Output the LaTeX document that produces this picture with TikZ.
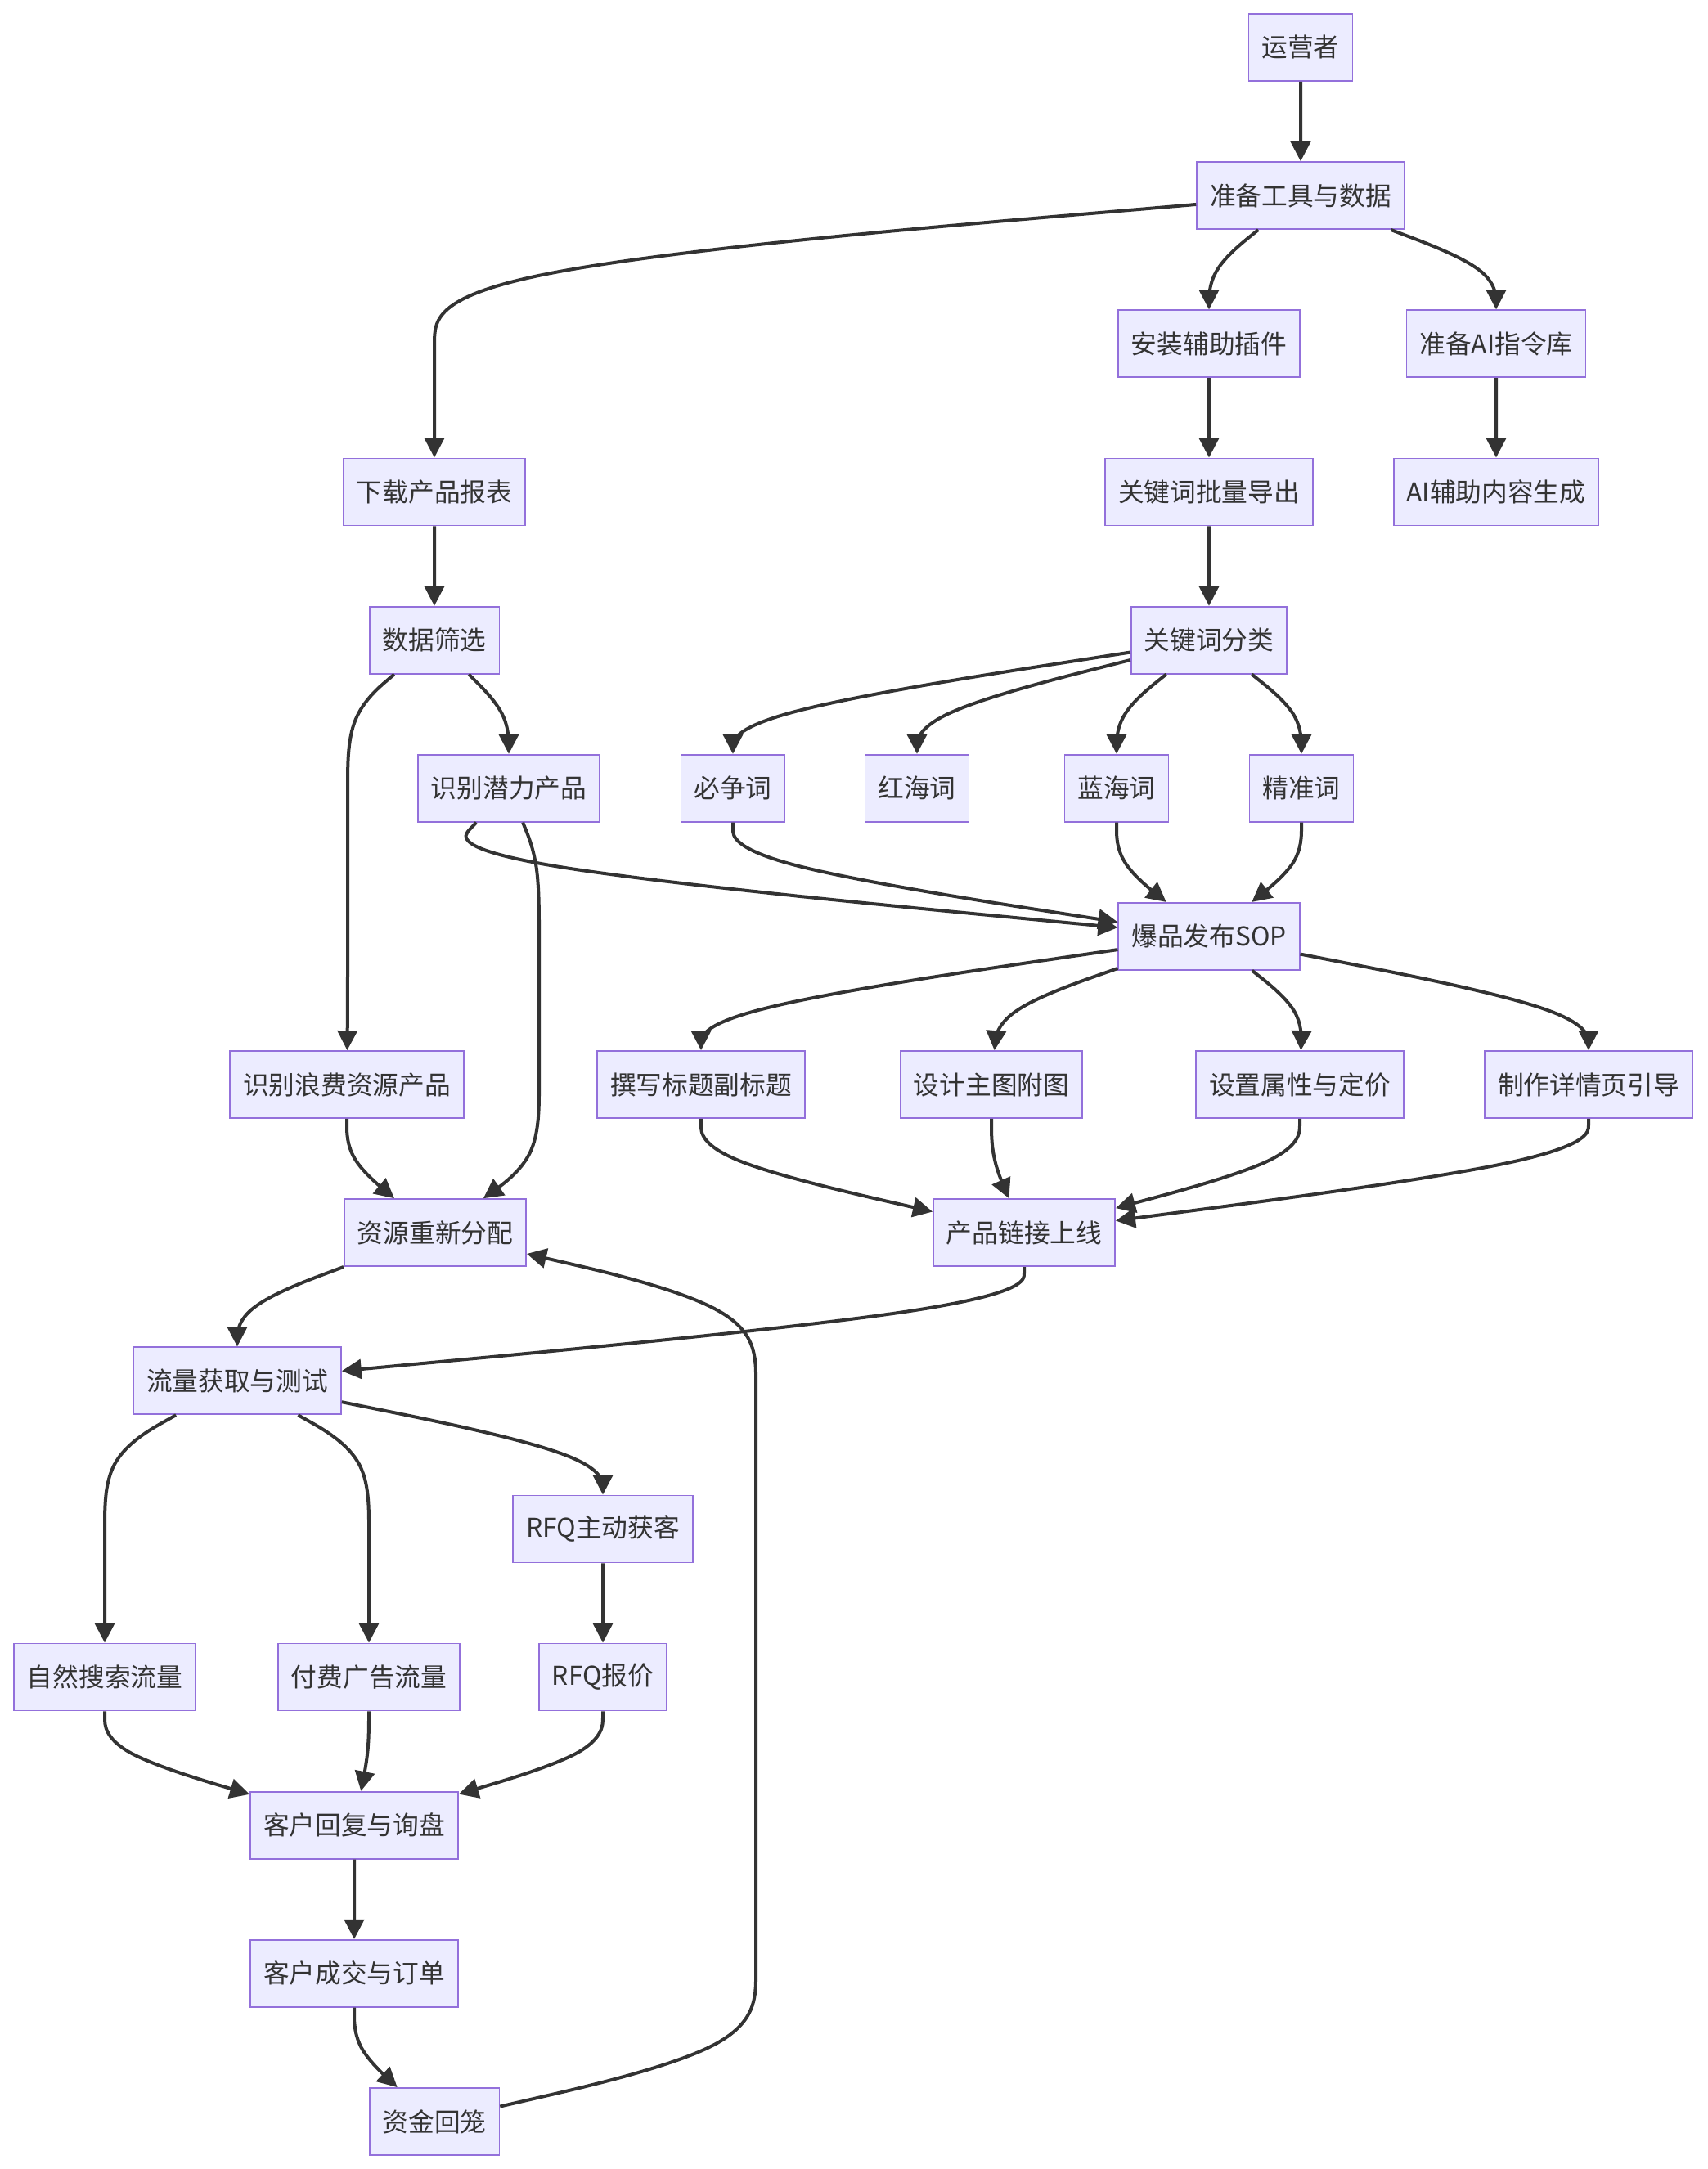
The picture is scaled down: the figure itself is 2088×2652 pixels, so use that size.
\documentclass[tikz,border=0pt]{standalone}
\usepackage{fontspec}
\setmainfont{Noto Sans CJK SC}
\usetikzlibrary{arrows.meta,calc}
\definecolor{boxfill}{HTML}{ECECFF}
\definecolor{boxborder}{HTML}{9370DB}
\definecolor{linecol}{HTML}{333333}
\definecolor{textcol}{HTML}{333333}
\tikzset{
  box/.style={draw=boxborder, fill=boxfill, line width=0.9pt, minimum height=41pt,
    inner xsep=8pt, inner ysep=0pt, text=textcol, font=\fontsize{15.85pt}{19pt}\selectfont},
  edge/.style={draw=linecol, line width=2pt, line join=round, -{Triangle[length=12pt,width=12pt]}}
}
% basis-spline connector: source node, list of via points x/y, target node
\newcommand\bsedge[3]{%
  \foreach \px/\py [count=\i] in {#2}{\coordinate (Q\i) at (\px,\py);\xdef\bsLast{\i}}%
  \pgfmathtruncatemacro\bsM{\bsLast+1}%
  \path (#1) -- (Q1) coordinate[pos=0] (Q0);
  \path (Q\bsLast) -- (#3) coordinate[pos=1] (Q\bsM);
  \xdef\bsp{(Q0) -- ($0.8333*(Q0)+0.1667*(Q1)$)}%
  \foreach \k in {2,...,\bsM}{%
    \pgfmathtruncatemacro\ka{\k-2}\pgfmathtruncatemacro\kb{\k-1}%
    \xdef\bsp{\bsp .. controls ($0.6667*(Q\ka)+0.3333*(Q\kb)$) and ($0.3333*(Q\ka)+0.6667*(Q\kb)$) .. ($0.1667*(Q\ka)+0.6667*(Q\kb)+0.1667*(Q\k)$)}}%
  \pgfmathtruncatemacro\ka{\bsM-1}%
  \xdef\bsp{\bsp .. controls ($0.6667*(Q\ka)+0.3333*(Q\bsM)$) and ($0.3333*(Q\ka)+0.6667*(Q\bsM)$) .. ($0.1667*(Q\ka)+0.8333*(Q\bsM)$) -- (Q\bsM)}%
  \edef\bsdo{\noexpand\draw[edge] \bsp;}\bsdo
}
\begin{document}
\begin{tikzpicture}[x=0.5pt,y=-0.5pt]
\fill[white] (0,0) rectangle (2088,2652);
\useasboundingbox (0,0) rectangle (2088,2652);
% nodes
\node[box] (yy)  at (1590,58)     {运营者};
\node[box] (zb)  at (1590,239.1)  {准备工具与数据};
\node[box] (az)  at (1478,420.3)  {安装辅助插件};
\node[box] (zl)  at (1829,420.3)  {准备AI指令库};
\node[box] (xz)  at (531,601.4)   {下载产品报表};
\node[box] (gj)  at (1478,601.4)  {关键词批量导出};
\node[box] (ai)  at (1829,601.4)  {AI辅助内容生成};
\node[box] (sj)  at (531,782.6)   {数据筛选};
\node[box] (fl)  at (1478,782.6)  {关键词分类};
\node[box] (qz)  at (622,963.7)   {识别潜力产品};
\node[box] (bz)  at (896,963.7)   {必争词};
\node[box] (hh)  at (1121,963.7)  {红海词};
\node[box] (lh)  at (1365,963.7)  {蓝海词};
\node[box] (jz)  at (1591,963.7)  {精准词};
\node[box] (sop) at (1478,1144.8) {爆品发布SOP};
\node[box] (lf)  at (424,1326)    {识别浪费资源产品};
\node[box] (zx)  at (857,1326)    {撰写标题副标题};
\node[box] (sjt) at (1212,1326)   {设计主图附图};
\node[box] (sz)  at (1589,1326)   {设置属性与定价};
\node[box] (zz)  at (1942,1326)   {制作详情页引导};
\node[box] (cf)  at (532,1507.1)  {资源重新分配};
\node[box] (sx)  at (1252,1507.1) {产品链接上线};
\node[box] (ll)  at (290,1688.3)  {流量获取与测试};
\node[box] (rfq) at (737,1869.4)  {RFQ主动获客};
\node[box] (zr)  at (128,2050.5)  {自然搜索流量};
\node[box] (ff)  at (451,2050.5)  {付费广告流量};
\node[box] (rb)  at (737,2050.5)  {RFQ报价};
\node[box] (kh)  at (433,2231.7)  {客户回复与询盘};
\node[box] (cj)  at (433,2412.8)  {客户成交与订单};
\node[box] (zj)  at (531,2594)    {资金回笼};
% connectors
\bsedge{yy}{1590/148.6}{zb}
\bsedge{zb}{531/329.7, 531/420.3, 531/510.9}{xz}
\bsedge{zb}{1478/329.7}{az}
\bsedge{zb}{1829/329.7}{zl}
\bsedge{az}{1478/510.9}{gj}
\bsedge{zl}{1829/510.9}{ai}
\bsedge{xz}{531/692}{sj}
\bsedge{gj}{1478/692}{fl}
\bsedge{sj}{425/873.1, 425/963.7, 425/1054.3, 425/1144.8, 425/1235.4}{lf}
\bsedge{sj}{622/873.1}{qz}
\bsedge{fl}{896/873.1}{bz}
\bsedge{fl}{1121/873.1}{hh}
\bsedge{fl}{1365/873.1}{lh}
\bsedge{fl}{1591/873.1}{jz}
\bsedge{qz}{536/1054.3}{sop}
\bsedge{qz}{659/1054.3, 659/1144.8, 659/1235.4, 659/1326, 659/1416.6}{cf}
\bsedge{bz}{896/1054.3}{sop}
\bsedge{lh}{1365/1054.3}{sop}
\bsedge{jz}{1591/1054.3}{sop}
\bsedge{sop}{857/1235.4}{zx}
\bsedge{sop}{1220/1235.4}{sjt}
\bsedge{sop}{1592/1235.4}{sz}
\bsedge{sop}{1942/1235.4}{zz}
\bsedge{lf}{424/1416.6}{cf}
\bsedge{zx}{857/1416.6}{sx}
\bsedge{sjt}{1212/1416.6}{sx}
\bsedge{sz}{1589/1416.6}{sx}
\bsedge{zz}{1942/1416.6}{sx}
\bsedge{cf}{290/1597.7}{ll}
\bsedge{sx}{1252/1597.7}{ll}
\bsedge{ll}{128/1778.9, 128/1869.4, 128/1960}{zr}
\bsedge{ll}{451/1778.9, 451/1869.4, 451/1960}{ff}
\bsedge{ll}{737/1778.9}{rfq}
\bsedge{rfq}{737/1960}{rb}
\bsedge{zr}{128/2141.1}{kh}
\bsedge{ff}{451/2141.1}{kh}
\bsedge{rb}{737/2141.1}{kh}
\bsedge{kh}{433/2322.3}{cj}
\bsedge{cj}{433/2503.4}{zj}
\bsedge{zj}{924/2503.4, 924/2412.8, 924/2322.3, 924/2231.7, 924/2141.1, 924/2050.5, 924/1960, 924/1869.4, 924/1778.9, 924/1688.3, 924/1597.7}{cf}
\end{tikzpicture}
\end{document}
